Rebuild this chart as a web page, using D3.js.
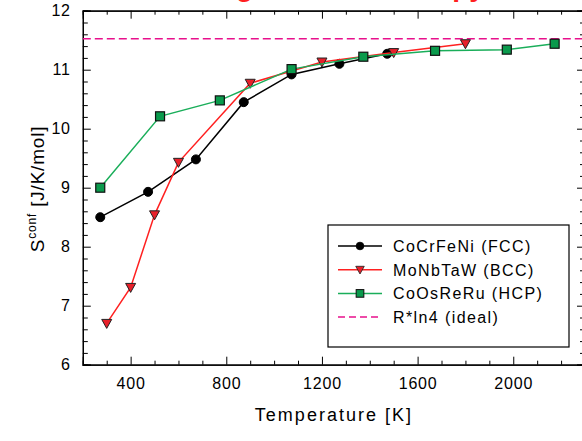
<!DOCTYPE html>
<html>
<head>
<meta charset="utf-8">
<script src="https://cdn.jsdelivr.net/npm/d3@7"></script>
<style>
  body { margin: 0; background: #fff; }
  svg { display: block; font-family: "Liberation Sans", Arial, sans-serif; }
</style>
</head>
<body>
<div id="chart"></div>
<script>
// data
const fccT = [273, 473, 673, 873, 1073, 1273, 1473];
const fccS = [8.50, 8.93, 9.48, 10.45, 10.92, 11.10, 11.27];
const bccT = [300, 400, 500, 600, 900, 1200, 1500, 1800];
const bccS = [6.70, 7.31, 8.54, 9.43, 10.77, 11.13, 11.29, 11.44];
const hcpT = [273, 523, 773, 1073, 1373, 1673, 1973, 2173];
const hcpS = [9.00, 10.21, 10.48, 11.01, 11.22, 11.32, 11.34, 11.44];
const idealS = 8.314 * Math.log(4);
const xMajor = [400, 800, 1200, 1600, 2000];
const yMajor = [6, 7, 8, 9, 10, 11, 12];
const seriesNames = ["CoCrFeNi (FCC)", "MoNbTaW (BCC)", "CoOsReRu (HCP)", "R*ln4 (ideal)"];

const W = 582, H = 441;
const margin = {top: 10.7, right: -3, bottom: 76.3, left: 82.8};
const width = W - margin.left - margin.right;
const height = H - margin.top - margin.bottom;

const svg = d3.select("#chart").append("svg")
    .attr("width", W).attr("height", H);

// red title, cut off by the top edge like in the source
const title = svg.append("text")
    .attr("x", 0).attr("y", -4)
    .attr("fill", "#ff2020")
    .style("font-size", "28px")
    .style("font-weight", "bold")
    .text("Configurational Entropy");
const gx = title.node().getStartPositionOfChar(5).x;
title.attr("x", 236 - gx);

const g = svg.append("g")
    .attr("transform", "translate(" + margin.left + "," + margin.top + ")");

const x = d3.scaleLinear().domain([200, 2300]).range([0, width]);
const y = d3.scaleLinear().domain([6, 12]).range([height, 0]);

// axes, ticks inward
const xMinor = d3.range(300, 2300, 100).filter(v => xMajor.indexOf(v) < 0);
const yMinor = d3.range(6.2, 12, 0.2).map(v => +v.toFixed(1)).filter(v => yMajor.indexOf(v) < 0);

function styleAxis(sel) {
    sel.select(".domain").attr("stroke", "#000").attr("stroke-width", 1.2);
    sel.selectAll(".tick line").attr("stroke", "#000");
    sel.selectAll(".tick text").attr("fill", "#000")
        .style("font-size", "16px").style("letter-spacing", "0.8px");
}

g.append("g").attr("transform", "translate(0," + height + ")")
    .call(d3.axisBottom(x).tickValues(xMajor).tickSize(-8).tickPadding(13).tickFormat(d3.format("d")))
    .call(styleAxis);
g.append("g").attr("transform", "translate(0," + height + ")")
    .call(d3.axisBottom(x).tickValues(xMinor).tickSize(-4).tickFormat(""))
    .call(styleAxis);
g.append("g")
    .call(d3.axisTop(x).tickValues(xMajor).tickSize(-8).tickFormat(""))
    .call(styleAxis);
g.append("g")
    .call(d3.axisTop(x).tickValues(xMinor).tickSize(-4).tickFormat(""))
    .call(styleAxis);

g.append("g")
    .call(d3.axisLeft(y).tickValues(yMajor).tickSize(-8).tickPadding(12).tickFormat(d3.format("d")))
    .call(styleAxis);
g.append("g")
    .call(d3.axisLeft(y).tickValues(yMinor).tickSize(-5).tickFormat(""))
    .call(styleAxis);
g.append("g").attr("transform", "translate(" + width + ",0)")
    .call(d3.axisRight(y).tickValues(yMajor).tickSize(-8).tickFormat(""))
    .call(styleAxis);
g.append("g").attr("transform", "translate(" + width + ",0)")
    .call(d3.axisRight(y).tickValues(yMinor).tickSize(-5).tickFormat(""))
    .call(styleAxis);

// axis titles
g.append("text")
    .attr("x", x(1250)).attr("y", height + 56)
    .attr("text-anchor", "middle")
    .style("font-size", "18px")
    .style("letter-spacing", "2px")
    .text("Temperature [K]");

const yLab = svg.append("text")
    .attr("transform", "translate(44,189) rotate(-90)")
    .attr("text-anchor", "middle")
    .style("font-size", "19px")
    .style("letter-spacing", "0.8px");
yLab.append("tspan").text("S");
yLab.append("tspan").attr("dy", -8).style("font-size", "12px").text("conf");
yLab.append("tspan").attr("dy", 8).text(" [J/K/mol]");

// ideal line
g.append("line")
    .attr("x1", 0).attr("x2", width)
    .attr("y1", y(idealS)).attr("y2", y(idealS))
    .attr("stroke", "#e8108c").attr("stroke-width", 1.5)
    .attr("stroke-dasharray", "8,4");

const line = d3.line().x(d => x(d[0])).y(d => y(d[1]));

const series = [
    {T: fccT, S: fccS, color: "#000000", fill: "#000000", shape: "circle"},
    {T: bccT, S: bccS, color: "#ff2020", fill: "#e8202a", shape: "triangle"},
    {T: hcpT, S: hcpS, color: "#1aae5a", fill: "#0a9a4c", shape: "square"}
];

function drawMarker(sel, shape, fill) {
    if (shape === "circle") {
        sel.append("circle").attr("r", 4.5).attr("fill", fill).attr("stroke", "#000");
    } else if (shape === "triangle") {
        sel.append("path").attr("d", "M-5,-4 L5,-4 L0,5 Z")
            .attr("fill", fill).attr("stroke", "#222").attr("stroke-width", 1);
    } else {
        sel.append("rect").attr("x", -4.5).attr("y", -4.5).attr("width", 9).attr("height", 9)
            .attr("fill", fill).attr("stroke", "#111").attr("stroke-width", 1.2);
    }
}

series.forEach(s => {
    const pts = s.T.map((t, i) => [t, s.S[i]]);
    g.append("path").datum(pts)
        .attr("fill", "none").attr("stroke", s.color).attr("stroke-width", 1.5)
        .attr("d", line);
    g.selectAll(null).data(pts).join("g")
        .attr("transform", d => "translate(" + x(d[0]) + "," + y(d[1]) + ")")
        .each(function () { drawMarker(d3.select(this), s.shape, s.fill); });
});

// legend
const leg = svg.append("g").attr("transform", "translate(328,225)");
leg.append("rect").attr("width", 241).attr("height", 122)
    .attr("fill", "#fff").attr("stroke", "#000").attr("stroke-width", 1.2);
seriesNames.forEach((name, i) => {
    const ly = 21 + i * 23.7;
    const row = leg.append("g").attr("transform", "translate(0," + ly + ")");
    if (i < 3) {
        row.append("line").attr("x1", 10).attr("x2", 54).attr("stroke", series[i].color).attr("stroke-width", 1.5);
        const m = row.append("g").attr("transform", "translate(32,0) scale(0.85)");
        drawMarker(m, series[i].shape, series[i].fill);
    } else {
        row.append("line").attr("x1", 10).attr("x2", 54).attr("stroke", "#e8108c")
            .attr("stroke-width", 1.5).attr("stroke-dasharray", "7,4");
    }
    row.append("text").attr("x", 65).attr("y", 6)
        .style("font-size", "16px").style("letter-spacing", "1.4px").text(name);
});
</script>
</body>
</html>
